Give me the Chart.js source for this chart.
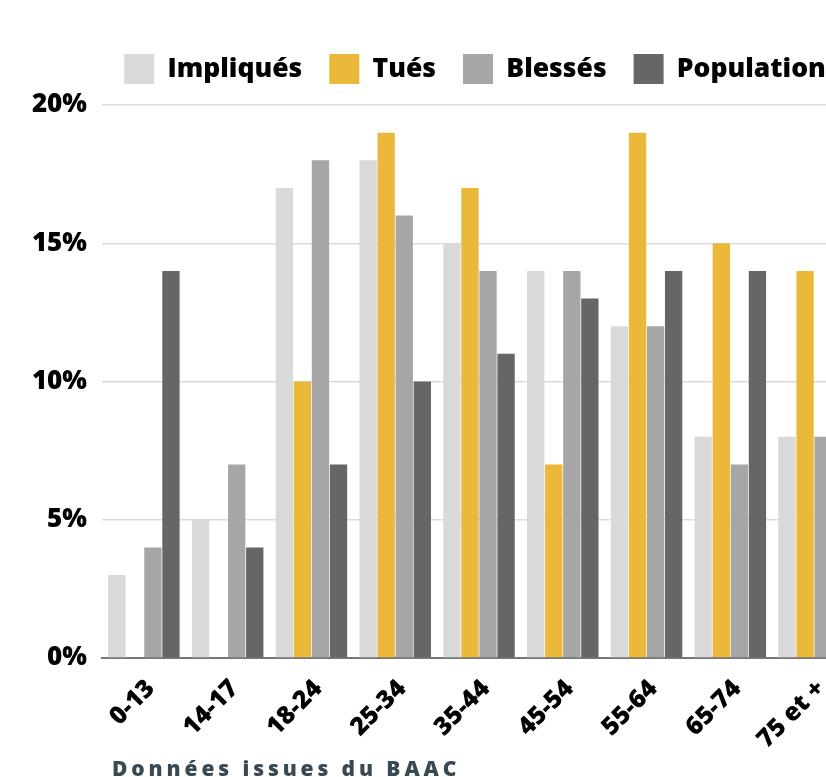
<!DOCTYPE html>
<html>
<head>
<meta charset="utf-8">
<script src="https://cdn.jsdelivr.net/npm/chart.js@4"></script>
<style>
  body { margin: 0; background: #fff; overflow: hidden; }
  #wrap { position: relative; width: 826px; height: 777px; overflow: hidden; }
  #box { position: absolute; left: 0; top: 0; width: 860px; height: 760px; }
  #source {
    position: absolute; left: 112px; top: 754px;
    font-family: "Open Sans", sans-serif; font-weight: 800; font-size: 21px;
    letter-spacing: 3.9px; color: #3a4852; white-space: nowrap;
  }
</style>
</head>
<body>
<div id="wrap">
  <div id="box"><canvas id="myChart" width="860" height="760"></canvas></div>
  <div id="source">Données issues du BAAC</div>
</div>
<script>
// tranches d'age
var ages = ["0-13", "14-17", "18-24", "25-34", "35-44", "45-54", "55-64", "65-74", "75 et +"];
var impliques = [3, 5, 17, 18, 15, 14, 12, 8, 8];
var tues = [0, 0, 10, 19, 17, 7, 19, 15, 14];
var blesses = [4, 7, 18, 16, 14, 14, 12, 7, 8];
var population = [14, 4, 7, 10, 11, 13, 14, 14, 9];
var yTicks = [0, 5, 10, 15, 20];

var barColors = ["#d9d9d9", "#ebb83a", "#a6a6a6", "#666666"];

// legende sur une seule ligne, centree sur la zone du graphique
var legendFit = {
    id: "legendFit",
    beforeInit: function (chart) {
        var fit = chart.legend.fit;
        chart.legend.fit = function () {
            this.maxWidth = 1000;
            fit.bind(chart.legend)();
            this.height += 11;
        };
    },
    afterLayout: function (chart) {
        var lg = chart.legend;
        lg.left -= 64;
        lg.right += 56;
        lg.width += 120;
    }
};

new Chart("myChart", {
    type: "bar",
    data: {
        labels: ages,
        datasets: [
            {label: "Impliqués", data: impliques, backgroundColor: barColors[0]},
            {label: "Tués", data: tues, backgroundColor: barColors[1]},
            {label: "Blessés", data: blesses, backgroundColor: barColors[2]},
            {label: "Population", data: population, backgroundColor: barColors[3]}
        ]
    },
    options: {
        responsive: false,
        animation: false,
        datasets: {bar: {categoryPercentage: 0.862, barPercentage: 0.96}},
        layout: {padding: {top: 27, right: 4, left: 0, bottom: 0}},
        plugins: {
            legend: {
                fullSize: false,
                labels: {
                    boxWidth: 30, boxHeight: 30, padding: 27,
                    color: "#000",
                    font: {family: "Open Sans", size: 26.5, weight: "800"}
                }
            },
            tooltip: {enabled: false}
        },
        scales: {
            y: {
                min: 0, max: 20,
                afterFit: function (scale) { scale.width = 102; },
                afterBuildTicks: function (scale) {
                    scale.ticks = yTicks.map(function (v) { return {value: v}; });
                },
                border: {display: false},
                grid: {color: "#dcdcdc", lineWidth: 1.5, drawTicks: false},
                ticks: {
                    padding: 15, color: "#000",
                    font: {family: "Open Sans", size: 26, weight: "800"},
                    callback: function (v) { return v + "%"; }
                }
            },
            x: {
                afterFit: function (scale) { scale.height = 102; },
                border: {display: true, color: "#777", width: 2},
                grid: {display: false},
                ticks: {
                    minRotation: 45, maxRotation: 45, padding: 8, labelOffset: 7, color: "#000",
                    font: {family: "Open Sans", size: 25, weight: "800"}
                }
            }
        }
    },
    plugins: [legendFit]
});
</script>
</body>
</html>
